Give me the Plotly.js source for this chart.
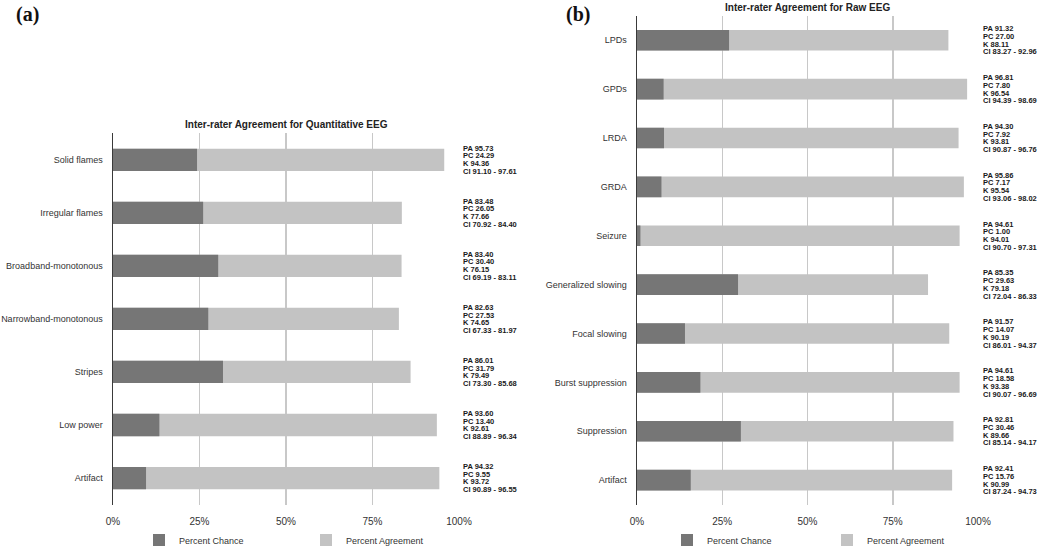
<!DOCTYPE html>
<html>
<head>
<meta charset="utf-8">
<script src="https://cdn.plot.ly/plotly-3.0.1.min.js"></script>
<style>html,body{margin:0;padding:0;background:#fff;}#chart{width:1040px;height:555px;}</style>
</head>
<body>
<div id="chart"></div>
<script>
// ---- Data: Quantitative EEG (panel a) ----
const qCats = ["Solid flames", "Irregular flames", "Broadband-monotonous", "Narrowband-monotonous", "Stripes", "Low power", "Artifact"];
const qPA = [95.73, 83.48, 83.40, 82.63, 86.01, 93.60, 94.32];
const qPC = [24.29, 26.05, 30.40, 27.53, 31.79, 13.40, 9.55];
const qK = [94.36, 77.66, 76.15, 74.65, 79.49, 92.61, 93.72];
const qCILow = [91.10, 70.92, 69.19, 67.33, 73.30, 88.89, 90.89];
const qCIHigh = [97.61, 84.40, 83.11, 81.97, 85.68, 96.34, 96.55];

// ---- Data: Raw EEG (panel b) ----
const rCats = ["LPDs", "GPDs", "LRDA", "GRDA", "Seizure", "Generalized slowing", "Focal slowing", "Burst suppression", "Suppression", "Artifact"];
const rPA = [91.32, 96.81, 94.30, 95.86, 94.61, 85.35, 91.57, 94.61, 92.81, 92.41];
const rPC = [27.00, 7.80, 7.92, 7.17, 1.00, 29.63, 14.07, 18.58, 30.46, 15.76];
const rK = [88.11, 96.54, 93.81, 95.54, 94.01, 79.18, 90.19, 93.38, 89.66, 90.99];
const rCILow = [83.27, 94.39, 90.87, 93.06, 90.70, 72.04, 86.01, 90.07, 85.14, 87.24];
const rCIHigh = [92.96, 98.69, 96.76, 98.02, 97.31, 86.33, 94.37, 96.69, 94.17, 94.73];

const seriesNames = ["Percent Chance", "Percent Agreement"];
const tickVals = [0, 25, 50, 75, 100];
const tickLabels = ["0%", "25%", "50%", "75%", "100%"];

const FONT = "Liberation Sans, Arial, Helvetica, sans-serif";
const DARK = "#767676";
const LIGHT = "#c3c3c3";

function barPair(cats, pa, pc, xa, ya, leg) {
  return [
    {type: "bar", orientation: "h", y: cats, x: pa, xaxis: xa, yaxis: ya,
     name: seriesNames[1], legend: leg, legendrank: 2,
     marker: {color: LIGHT, opacity: 1, line: {width: 0}}, hoverinfo: "x+y"},
    {type: "bar", orientation: "h", y: cats, x: pc, xaxis: xa, yaxis: ya,
     name: seriesNames[0], legend: leg, legendrank: 1,
     marker: {color: DARK, opacity: 1, line: {width: 0}}, hoverinfo: "x+y"}
  ];
}

const data = [].concat(
  barPair(qCats, qPA, qPC, "x", "y", "legend"),
  barPair(rCats, rPA, rPC, "x2", "y2", "legend2")
);

function statNotes(cats, pa, pc, k, lo, hi, yref, xpos) {
  const out = [];
  const step = 7.8;
  cats.forEach((c, i) => {
    const lines = [
      "PA " + pa[i].toFixed(2),
      "PC " + pc[i].toFixed(2),
      "K " + k[i].toFixed(2),
      "CI " + lo[i].toFixed(2) + " - " + hi[i].toFixed(2)
    ];
    lines.forEach((t, j) => {
      out.push({
        xref: "paper", x: xpos, xanchor: "left",
        yref: yref, y: c, yanchor: "middle", yshift: -(j - 1.5) * step,
        text: "<b>" + t + "</b>", showarrow: false,
        font: {family: FONT, size: 7.5, color: "#1a1a1a"}
      });
    });
  });
  return out;
}

const annotations = [].concat(
  statNotes(qCats, qPA, qPC, qK, qCILow, qCIHigh, "y", 461 / 1040),
  statNotes(rCats, rPA, rPC, rK, rCILow, rCIHigh, "y2", 981 / 1040),
  [
    {xref: "paper", yref: "paper", x: 286 / 1040, y: 1 - 126 / 555, xanchor: "center", yanchor: "middle",
     text: "<b>Inter-rater Agreement for Quantitative EEG</b>", showarrow: false,
     font: {family: FONT, size: 10, color: "#222"}},
    {xref: "paper", yref: "paper", x: 807 / 1040, y: 1 - 8 / 555, xanchor: "center", yanchor: "middle",
     text: "<b>Inter-rater Agreement for Raw EEG</b>", showarrow: false,
     font: {family: FONT, size: 10, color: "#222"}},
    {xref: "paper", yref: "paper", x: 14 / 1040, y: 1 - 15 / 555, xanchor: "left", yanchor: "middle",
     text: "<b>(a)</b>", showarrow: false,
     font: {family: "Liberation Serif, Times New Roman, serif", size: 20, color: "#111"}},
    {xref: "paper", yref: "paper", x: 564 / 1040, y: 1 - 15 / 555, xanchor: "left", yanchor: "middle",
     text: "<b>(b)</b>", showarrow: false,
     font: {family: "Liberation Serif, Times New Roman, serif", size: 20, color: "#111"}}
  ]
);

function xAxis(domain, anchor) {
  return {
    domain: domain, anchor: anchor, range: [0, 100], tickmode: "array",
    tickvals: tickVals, ticktext: tickLabels,
    showgrid: true, gridcolor: "#c8c8c8", gridwidth: 1.5, zeroline: false, showline: false,
    ticks: "outside", ticklen: 7, tickcolor: "rgba(0,0,0,0)",
    tickfont: {family: FONT, size: 10, color: "#333"}, fixedrange: true
  };
}
function yAxis(domain, anchor) {
  return {
    domain: domain, anchor: anchor, type: "category", autorange: "reversed",
    showline: true, linecolor: "#3a3a3a", linewidth: 1.5, showgrid: false, zeroline: false,
    ticks: "outside", ticklen: 7, tickcolor: "rgba(0,0,0,0)",
    tickfont: {family: FONT, size: 9, color: "#333"}, fixedrange: true
  };
}

const legendBase = {
  orientation: "h", yref: "paper", y: 1 - 547 / 555, yanchor: "middle", xanchor: "left",
  font: {family: FONT, size: 9, color: "#333"}, bgcolor: "rgba(0,0,0,0)", traceorder: "normal"
};

const layout = {
  width: 1040, height: 555,
  margin: {l: 0, r: 0, t: 0, b: 0},
  paper_bgcolor: "#fff", plot_bgcolor: "#fff",
  barmode: "overlay", bargap: 0.58,
  showlegend: true,
  font: {family: FONT, color: "#333"},
  xaxis: xAxis([113 / 1040, 459 / 1040], "y"),
  yaxis: yAxis([1 - 511 / 555, 1 - 135 / 555], "x"),
  xaxis2: xAxis([637 / 1040, 978 / 1040], "y2"),
  yaxis2: yAxis([1 - 511 / 555, 1 - 16 / 555], "x2"),
  legend: Object.assign({}, legendBase, {x: 139 / 1040, entrywidth: 122}),
  legend2: Object.assign({}, legendBase, {x: 667 / 1040, entrywidth: 115}),
  annotations: annotations
};

Plotly.newPlot("chart", data, layout, {displayModeBar: false, staticPlot: true});
</script>
</body>
</html>
